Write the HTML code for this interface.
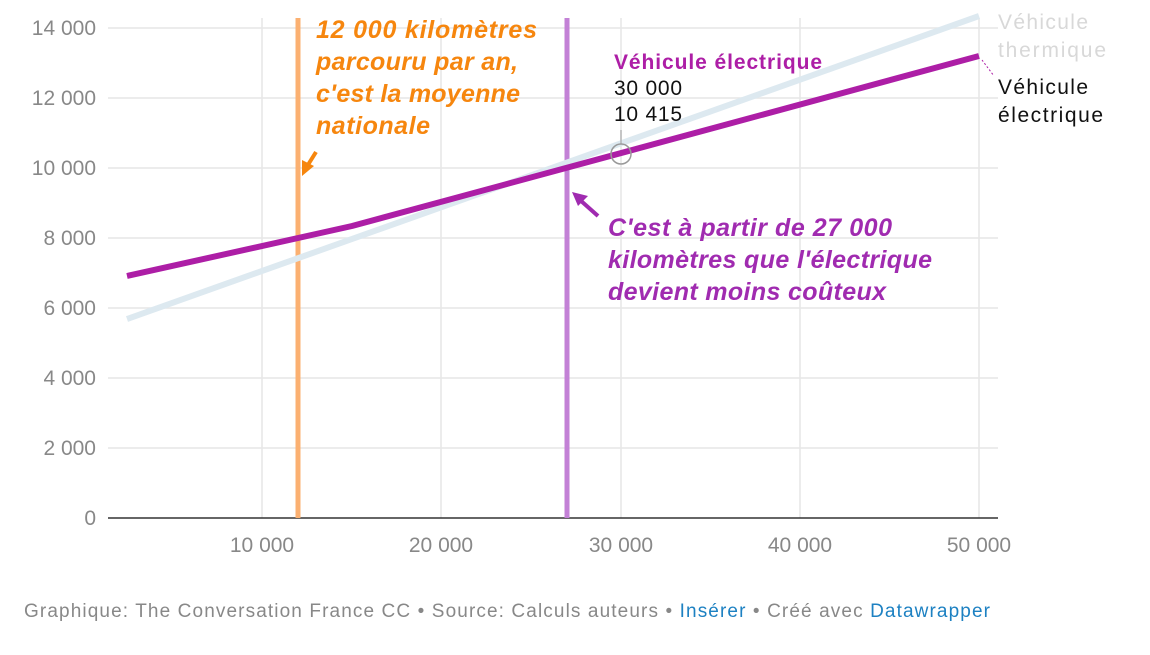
<!DOCTYPE html>
<html><head><meta charset="utf-8"><style>
body{margin:0;background:#fff;width:1150px;height:650px;overflow:hidden;font-family:"Liberation Sans",sans-serif}
</style></head><body>
<svg width="1150" height="650" xmlns="http://www.w3.org/2000/svg" font-family="Liberation Sans, sans-serif">
<g stroke="#e6e6e6" stroke-width="1.5">
<line x1="108" x2="998" y1="28" y2="28"/><line x1="108" x2="998" y1="98" y2="98"/>
<line x1="108" x2="998" y1="168" y2="168"/><line x1="108" x2="998" y1="238" y2="238"/>
<line x1="108" x2="998" y1="308" y2="308"/><line x1="108" x2="998" y1="378" y2="378"/>
<line x1="108" x2="998" y1="448" y2="448"/>
<line x1="262" x2="262" y1="18" y2="518"/><line x1="441" x2="441" y1="18" y2="518"/>
<line x1="621" x2="621" y1="18" y2="518"/><line x1="800" x2="800" y1="18" y2="518"/>
<line x1="979" x2="979" y1="18" y2="518"/>
</g>
<line x1="108" x2="998" y1="518" y2="518" stroke="#333" stroke-width="1.5"/>
<g fill="#888" font-size="21" text-anchor="end">
<text x="96" y="35">14 000</text><text x="96" y="105">12 000</text><text x="96" y="175">10 000</text>
<text x="96" y="245">8 000</text><text x="96" y="315">6 000</text><text x="96" y="385">4 000</text>
<text x="96" y="455">2 000</text><text x="96" y="525">0</text>
</g>
<g fill="#888" font-size="21" text-anchor="middle">
<text x="262" y="552">10 000</text><text x="441" y="552">20 000</text><text x="621" y="552">30 000</text>
<text x="800" y="552">40 000</text><text x="979" y="552">50 000</text>
</g>
<line x1="298" x2="298" y1="18" y2="518" stroke="#fbb071" stroke-width="5"/>
<line x1="567" x2="567" y1="18" y2="518" stroke="#c381d6" stroke-width="5"/>
<polyline points="127,319 979,16" fill="none" stroke="#dde9f0" stroke-width="6"/>
<polyline points="127,276 352,226 979,56" fill="none" stroke="#ad1ea6" stroke-width="6" stroke-linejoin="round"/>
<line x1="621" y1="130" x2="621" y2="144" stroke="#999" stroke-width="1"/>
<circle cx="621" cy="154" r="10" fill="none" stroke="#999" stroke-width="1.5"/>
<line x1="982" y1="60" x2="994" y2="76" stroke="#ad1ea6" stroke-width="1" stroke-dasharray="2,2"/>
<text x="998" y="29" font-size="21" fill="#d8d8d8" textLength="90">Véhicule</text>
<text x="998" y="57" font-size="21" fill="#d8d8d8" textLength="108">thermique</text>
<text x="998" y="94" font-size="21" fill="#111" textLength="90">Véhicule</text>
<text x="998" y="122" font-size="21" fill="#111" textLength="105">électrique</text>
<text x="614" y="69" font-size="21" font-weight="bold" fill="#ad1ea6" textLength="208">Véhicule électrique</text>
<text x="614" y="95" font-size="21" fill="#111" textLength="68">30 000</text>
<text x="614" y="121" font-size="21" fill="#111" textLength="68">10 415</text>
<g font-size="25" font-weight="bold" font-style="italic" fill="#f6860e">
<text x="316" y="38" textLength="221">12 000 kilomètres</text><text x="316" y="70" textLength="202">parcouru par an,</text>
<text x="316" y="102" textLength="204">c'est la moyenne</text><text x="316" y="134" textLength="114">nationale</text>
</g>
<line x1="316" y1="152" x2="306" y2="168" stroke="#f6860e" stroke-width="4"/>
<polygon points="302,176 302,160 314,166" fill="#f6860e"/>
<g font-size="25" font-weight="bold" font-style="italic" fill="#a02bb0">
<text x="608" y="236" textLength="284">C'est à partir de 27 000</text><text x="608" y="268" textLength="324">kilomètres que l'électrique</text>
<text x="608" y="300" textLength="278">devient moins coûteux</text>
</g>
<line x1="598" y1="216" x2="580" y2="200" stroke="#a02bb0" stroke-width="4"/>
<polygon points="572,192 588,196 578,206" fill="#a02bb0"/>
<text x="24" y="617" font-size="19" fill="#888" textLength="966">Graphique: The Conversation France CC • Source: Calculs auteurs • <tspan fill="#1d81c2">Insérer</tspan> • Créé avec <tspan fill="#1d81c2">Datawrapper</tspan></text>
</svg>
</body></html>
